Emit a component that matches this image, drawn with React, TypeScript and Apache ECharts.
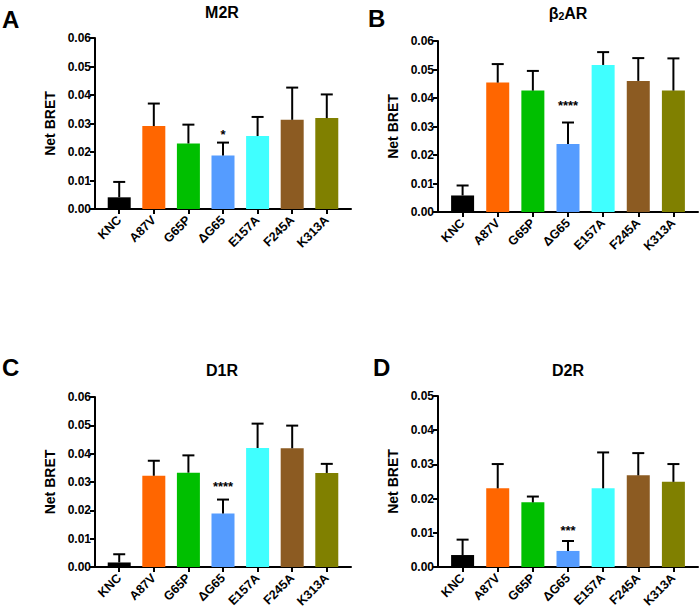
import React, { useEffect, useRef } from "react";
import * as echarts from "echarts";

const categories = ["KNC", "A87V", "G65P", "ΔG65", "E157A", "F245A", "K313A"];
const barColors = ["#000000", "#FF6600", "#00BF00", "#559CFF", "#40FFFF", "#8C5B22", "#808000"];

const m2rMean = [0.0041, 0.0291, 0.023, 0.0188, 0.0256, 0.0313, 0.0319];
const m2rErr = [0.0054, 0.0079, 0.0066, 0.0045, 0.0067, 0.0113, 0.0083];

const b2arMean = [0.0058, 0.0454, 0.0426, 0.0239, 0.0516, 0.046, 0.0426];
const b2arErr = [0.0035, 0.0065, 0.0069, 0.0075, 0.0045, 0.008, 0.0113];

const d1rMean = [0.0016, 0.0322, 0.0333, 0.0189, 0.042, 0.0419, 0.0332];
const d1rErr = [0.0029, 0.0053, 0.0061, 0.0049, 0.0086, 0.008, 0.0032];

const d2rMean = [0.0035, 0.023, 0.0189, 0.0047, 0.023, 0.0268, 0.0249];
const d2rErr = [0.0045, 0.0071, 0.0017, 0.0029, 0.0105, 0.0065, 0.0052];

const panelTitles = ["M2R", "β2AR", "D1R", "D2R"];
const panelLetters = ["A", "B", "C", "D"];
const sigLabels = ["*", "****", "****", "***"];
const sigIndex = [3, 3, 3, 3];
const sigValue = [0.0262, 0.0372, 0.0285, 0.0108];
const yMaxes = [0.06, 0.06, 0.06, 0.05];
const yTickStep = 0.01;

const FONT = '"Liberation Sans", Arial, Helvetica, sans-serif';

export default function App() {
  const ref = useRef<HTMLDivElement>(null);

  useEffect(() => {
    document.body.style.margin = "0";
    if (!ref.current) return;
    const chart = echarts.init(ref.current, null, { renderer: "svg" });

    const means = [m2rMean, b2arMean, d1rMean, d2rMean];
    const errs = [m2rErr, b2arErr, d1rErr, d2rErr];

    const grids = [
      { left: 95, top: 38, width: 256, height: 171 },
      { left: 438, top: 41, width: 260, height: 171 },
      { left: 95, top: 397, width: 256, height: 170 },
      { left: 438, top: 396, width: 260, height: 171 },
    ];
    const titlePos = [
      [222, 12],
      [568, 13],
      [222, 370],
      [568, 370],
    ];
    const letterPos = [
      [2, 19],
      [368, 18],
      [2, 367],
      [373, 367],
    ];

    const idx = categories.map((_, i) => i);

    const xAxes = grids.map((_, g) => ({
      type: "value",
      gridIndex: g,
      min: -0.7,
      max: 6.7,
      splitLine: { show: false },
      axisLine: { show: true, onZero: false, lineStyle: { color: "#000", width: 2 } },
      axisTick: { show: true, customValues: idx, length: 5, lineStyle: { color: "#000", width: 2 } },
      axisLabel: {
        customValues: idx,
        formatter: (v: number) => categories[Math.round(v)] ?? "",
        rotate: 45,
        margin: 9,
        color: "#000",
        fontWeight: "bold",
        fontSize: 12.5,
        fontFamily: FONT,
      },
    }));

    const yAxes = grids.map((_, g) => ({
      type: "value",
      gridIndex: g,
      min: 0,
      max: yMaxes[g],
      interval: yTickStep,
      name: "Net BRET",
      nameLocation: "middle",
      nameGap: 38,
      nameTextStyle: { color: "#000", fontWeight: "bold", fontSize: 14, fontFamily: FONT },
      splitLine: { show: false },
      axisLine: { show: true, onZero: false, lineStyle: { color: "#000", width: 2 } },
      axisTick: { show: true, length: 5, lineStyle: { color: "#000", width: 2 } },
      axisLabel: {
        formatter: (v: number) => v.toFixed(2),
        margin: 4,
        color: "#000",
        fontWeight: "bold",
        fontSize: 12,
        fontFamily: FONT,
      },
    }));

    const series: any[] = [];
    grids.forEach((_, g) => {
      series.push({
        type: "bar",
        xAxisIndex: g,
        yAxisIndex: g,
        barWidth: 23,
        data: means[g].map((v, i) => ({ value: [i, v], itemStyle: { color: barColors[i] } })),
      });
      series.push({
        type: "custom",
        xAxisIndex: g,
        yAxisIndex: g,
        z: 3,
        encode: { x: 0, y: 1 },
        data: means[g].map((v, i) => [i, v, errs[g][i]]),
        renderItem: (params: any, api: any) => {
          const x = api.value(0);
          const m = api.value(1);
          const e = api.value(2);
          const p0 = api.coord([x, m]);
          const p1 = api.coord([x, m + e]);
          return {
            type: "group",
            children: [
              { type: "line", shape: { x1: p0[0], y1: p0[1], x2: p1[0], y2: p1[1] }, style: { stroke: "#000", lineWidth: 2 } },
              { type: "line", shape: { x1: p1[0] - 6, y1: p1[1], x2: p1[0] + 6, y2: p1[1] }, style: { stroke: "#000", lineWidth: 2 } },
            ],
          };
        },
      });
      series.push({
        type: "custom",
        xAxisIndex: g,
        yAxisIndex: g,
        z: 4,
        encode: { x: 0, y: 1 },
        data: [[sigIndex[g], sigValue[g]]],
        renderItem: (params: any, api: any) => {
          const p = api.coord([api.value(0), api.value(1)]);
          return {
            type: "text",
            x: p[0],
            y: p[1],
            style: {
              text: sigLabels[g],
              align: "center",
              verticalAlign: "middle",
              fill: "#000",
              fontSize: 13,
              fontWeight: "bold",
              fontFamily: FONT,
            },
          };
        },
      });
    });

    const graphics: any[] = [];
    panelTitles.forEach((t, g) => {
      const isBeta = t.startsWith("β");
      graphics.push({
        type: "text",
        x: titlePos[g][0],
        y: titlePos[g][1],
        style: isBeta
          ? {
              text: "{a|β}{s|2}{a|AR}",
              align: "center",
              verticalAlign: "middle",
              rich: {
                a: { fontSize: 16, fontWeight: "bold", fontFamily: FONT, fill: "#000" },
                s: { fontSize: 10.5, fontWeight: "bold", fontFamily: FONT, fill: "#000", padding: [6, 0, 0, 0] },
              },
            }
          : {
              text: t,
              align: "center",
              verticalAlign: "middle",
              fontSize: 16,
              fontWeight: "bold",
              fontFamily: FONT,
              fill: "#000",
            },
      });
      graphics.push({
        type: "text",
        x: letterPos[g][0],
        y: letterPos[g][1],
        style: {
          text: panelLetters[g],
          align: "left",
          verticalAlign: "middle",
          fontSize: 24,
          fontWeight: "bold",
          fontFamily: FONT,
          fill: "#000",
        },
      });
    });

    chart.setOption({
      animation: false,
      backgroundColor: "#fff",
      grid: grids,
      xAxis: xAxes,
      yAxis: yAxes,
      series,
      graphic: graphics,
    });

    return () => chart.dispose();
  }, []);

  return <div ref={ref} style={{ width: 700, height: 613 }} />;
}
